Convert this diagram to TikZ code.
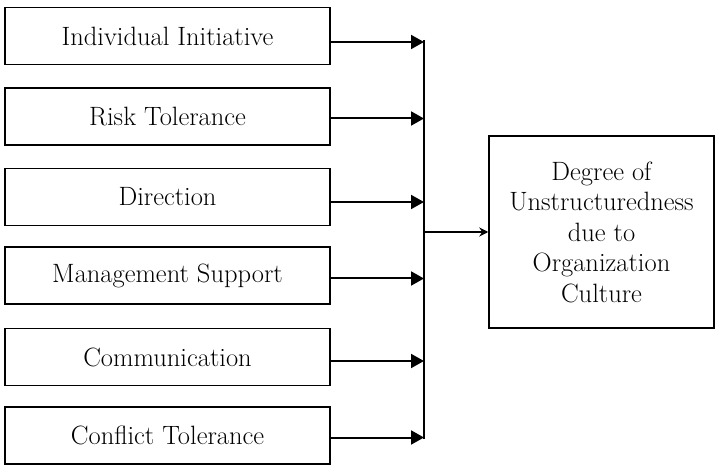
\documentclass[tikz,border=0pt]{standalone}
\usetikzlibrary{arrows.meta}
\begin{document}
\begin{tikzpicture}[x=1pt,y=-1pt,
  factor/.style={draw,line width=1.5pt,minimum width=325pt,minimum height=57pt,inner sep=0pt,
    font=\fontsize{26.5}{30}\selectfont},
  result/.style={draw,line width=1.5pt,minimum width=225pt,minimum height=192pt,inner sep=0pt,
    align=center,font=\fontsize{26.5}{30.5}\selectfont},
  arr/.style={line width=2pt,-{Triangle[length=13pt,width=14pt]}},
  marr/.style={line width=1.8pt,-{Stealth[length=9pt,width=9pt]}},
  spine/.style={line width=2pt}]
\useasboundingbox (0,0) rectangle (718,465);
\node[factor] (b1) at (167.5,36) {Individual Initiative};
\node[factor] (b2) at (167.5,116.5) {Risk Tolerance};
\node[factor] (b3) at (167.5,197) {Direction};
\node[factor] (b4) at (167.5,275.5) {Management Support};
\node[factor] (b5) at (167.5,357) {Communication};
\node[factor] (b6) at (167.5,435.5) {Conflict Tolerance};
\node[result] (r) at (601.5,232) {Degree of\\Unstructuredness\\due to\\Organization\\Culture};
\coordinate (st) at (424,40);
\coordinate (sb) at (424,439);
\coordinate (sm) at (424,232);
\draw[spine] (st) -- (sb);
\foreach \i/\d in {1/-6,2/-2,3/-5,4/-3,5/-4,6/-2}{
  \draw[arr] ([yshift=\d pt]b\i.east) -- ([yshift=\d pt]b\i.east -| st);
}
\draw[marr] (sm) -- (r.west);
\end{tikzpicture}
\end{document}
